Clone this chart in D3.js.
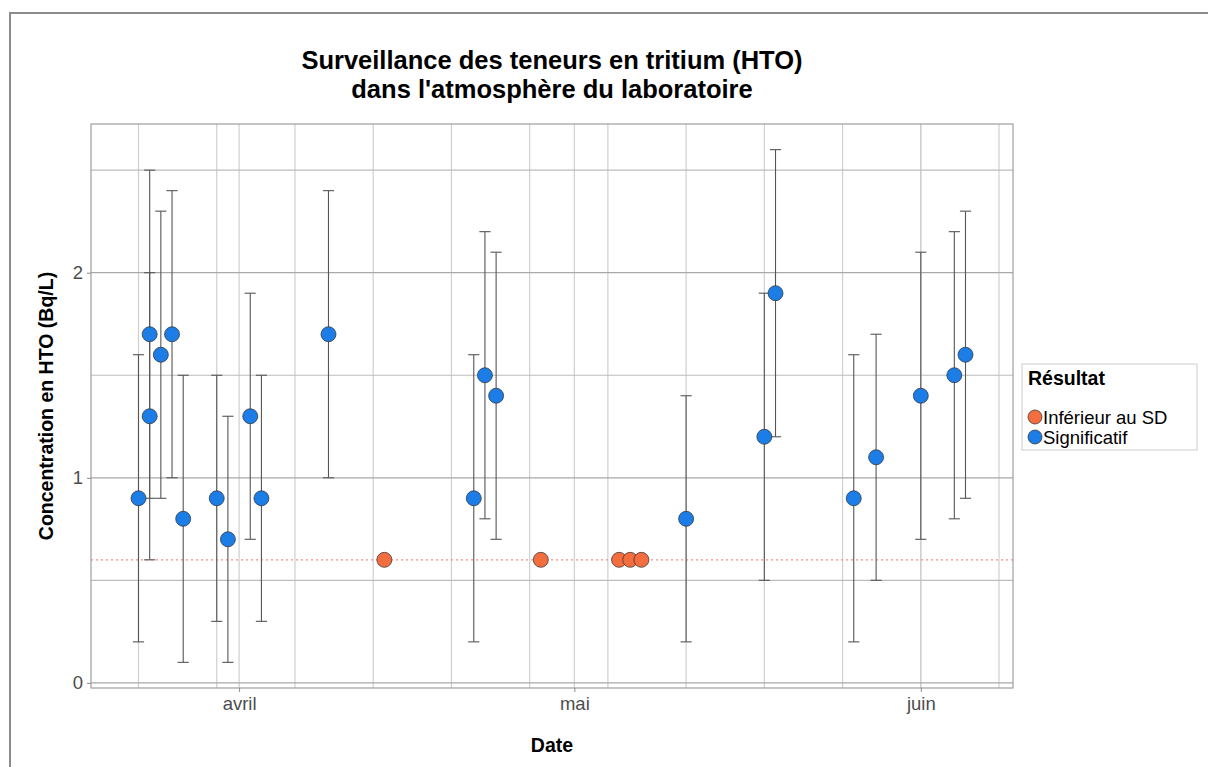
<!DOCTYPE html>
<html>
<head>
<meta charset="utf-8">
<script src="https://cdn.jsdelivr.net/npm/d3@7"></script>
<style>
  body { margin: 0; background: #fff; font-family: "Liberation Sans", Arial, sans-serif; }
</style>
</head>
<body>
<div id="chart"></div>
<script>
// data
var dates = ["2023-03-23","2023-03-24","2023-03-24","2023-03-25","2023-03-26","2023-03-27",
             "2023-03-30","2023-03-31","2023-04-02","2023-04-03","2023-04-09","2023-04-14",
             "2023-04-22","2023-04-23","2023-04-24","2023-04-28","2023-05-05","2023-05-06",
             "2023-05-07","2023-05-11","2023-05-18","2023-05-19","2023-05-26","2023-05-28",
             "2023-06-01","2023-06-04","2023-06-05"];
var values = [0.9, 1.3, 1.7, 1.6, 1.7, 0.8,
              0.9, 0.7, 1.3, 0.9, 1.7, 0.6,
              0.9, 1.5, 1.4, 0.6, 0.6, 0.6,
              0.6, 0.8, 1.2, 1.9, 0.9, 1.1,
              1.4, 1.5, 1.6];
var errLow = [0.2, 0.6, 0.9, 0.9, 1.0, 0.1,
              0.3, 0.1, 0.7, 0.3, 1.0, null,
              0.2, 0.8, 0.7, null, null, null,
              null, 0.2, 0.5, 1.2, 0.2, 0.5,
              0.7, 0.8, 0.9];
var errHigh = [1.6, 2.0, 2.5, 2.3, 2.4, 1.5,
               1.5, 1.3, 1.9, 1.5, 2.4, null,
               1.6, 2.2, 2.1, null, null, null,
               null, 1.4, 1.9, 2.6, 1.6, 1.7,
               2.1, 2.2, 2.3];
var result = ["S","S","S","S","S","S",
              "S","S","S","S","S","I",
              "S","S","S","I","I","I",
              "I","S","S","S","S","S",
              "S","S","S"];
var seuilSD = 0.6;
var yTicks = [0, 1, 2];
var yMinor = [0.5, 1.5, 2.5];
var monthTicks = ["2023-04-01", "2023-05-01", "2023-06-01"];
var monthLabels = ["avril", "mai", "juin"];
var legendKeys = ["I", "S"];
var legendLabels = ["Inférieur au SD", "Significatif"];

var parse = d3.timeParse("%Y-%m-%d");

var width = 1208, height = 767;
var margin = { top: 124, right: 195, bottom: 79, left: 91 };
var pw = width - margin.left - margin.right,
    ph = height - margin.top - margin.bottom;

var data = dates.map(function (d, i) {
    return { date: parse(d), value: values[i], lo: errLow[i], hi: errHigh[i], res: result[i] };
});

var color = d3.scaleOrdinal().domain(legendKeys).range(["#F46D3F", "#1C7DE6"]);

var svg = d3.select("#chart").append("svg")
    .attr("width", width)
    .attr("height", height);

// outer frame of the original image
svg.append("path")
    .attr("d", "M10," + height + "V13H" + width)
    .attr("fill", "none")
    .attr("stroke", "#8c8c8c")
    .attr("stroke-width", 2);

var inner = svg.append("g")
    .attr("transform", "translate(" + margin.left + "," + margin.top + ")");

// x scale: date range, widened by errorbar half width then 5%
var halfW = 0.5 * 864e5;
var ext = d3.extent(data, function (d) { return +d.date; });
var x0 = ext[0] - halfW, x1 = ext[1] + halfW, pad = (x1 - x0) * 0.05;
var x = d3.scaleTime()
    .domain([new Date(x0 - pad), new Date(x1 + pad)])
    .range([0, pw]);

// y scale: error bar range + 5%
var yMin = d3.min(data, function (d) { return d.lo == null ? d.value : d.lo; });
var yMax = d3.max(data, function (d) { return d.hi == null ? d.value : d.hi; });
var yPad = (yMax - yMin) * 0.05;
var y = d3.scaleLinear()
    .domain([yMin - yPad, yMax + yPad])
    .range([ph, 0]);

// grid: weekly lines + month lines
var weeks = d3.range(-9, 80, 7).map(function (k) { return d3.timeDay.offset(parse("2023-04-01"), k); })
    .filter(function (d) { return x(d) > 0 && x(d) < pw; });

inner.selectAll(".vgrid").data(weeks).enter().append("line")
    .attr("x1", function (d) { return x(d); }).attr("x2", function (d) { return x(d); })
    .attr("y1", 0).attr("y2", ph)
    .attr("stroke", "#cfcfcf").attr("stroke-width", 1.2);

inner.selectAll(".vmaj").data(monthTicks.map(parse)).enter().append("line")
    .attr("x1", function (d) { return x(d); }).attr("x2", function (d) { return x(d); })
    .attr("y1", 0).attr("y2", ph)
    .attr("stroke", "#cfcfcf").attr("stroke-width", 1.2);

inner.selectAll(".hmin").data(yMinor).enter().append("line")
    .attr("x1", 0).attr("x2", pw)
    .attr("y1", function (d) { return y(d); }).attr("y2", function (d) { return y(d); })
    .attr("stroke", "#bdbdbd").attr("stroke-width", 1.2);

inner.selectAll(".hmaj").data(yTicks).enter().append("line")
    .attr("x1", 0).attr("x2", pw)
    .attr("y1", function (d) { return y(d); }).attr("y2", function (d) { return y(d); })
    .attr("stroke", "#a8a8a8").attr("stroke-width", 1.2);

// panel border
inner.append("rect")
    .attr("width", pw).attr("height", ph)
    .attr("fill", "none").attr("stroke", "#9e9e9e").attr("stroke-width", 1.2);

// SD threshold line
inner.append("line")
    .attr("x1", 0).attr("x2", pw)
    .attr("y1", y(seuilSD)).attr("y2", y(seuilSD))
    .attr("stroke", "#ff8a80").attr("stroke-width", 1.2)
    .attr("stroke-dasharray", "2,3");

// axes
var xAxis = inner.append("g")
    .attr("transform", "translate(0," + ph + ")")
    .call(d3.axisBottom(x).tickValues(monthTicks.map(parse))
        .tickFormat(function (d, i) { return monthLabels[i]; })
        .tickSize(4).tickPadding(5));
var yAxis = inner.append("g")
    .call(d3.axisLeft(y).tickValues(yTicks).tickFormat(d3.format("d"))
        .tickSize(4).tickPadding(4));

[xAxis, yAxis].forEach(function (ax) {
    ax.select(".domain").remove();
    ax.selectAll("line").attr("stroke", "#8a8a8a");
    ax.selectAll("text")
        .style("font-family", "Liberation Sans, Arial, sans-serif")
        .style("font-size", "18.5px")
        .attr("fill", "#4d4d4d");
});

// error bars
var eb = data.filter(function (d) { return d.lo != null; });
var errG = inner.append("g");
errG.selectAll(".ev").data(eb).enter().append("line")
    .attr("x1", function (d) { return x(d.date); }).attr("x2", function (d) { return x(d.date); })
    .attr("y1", function (d) { return y(d.lo); }).attr("y2", function (d) { return y(d.hi); })
    .attr("stroke", "#555").attr("stroke-width", 1.1);
["lo", "hi"].forEach(function (k) {
    errG.selectAll(".cap" + k).data(eb).enter().append("line")
        .attr("x1", function (d) { return x(new Date(+d.date - halfW)); })
        .attr("x2", function (d) { return x(new Date(+d.date + halfW)); })
        .attr("y1", function (d) { return y(d[k]); }).attr("y2", function (d) { return y(d[k]); })
        .attr("stroke", "#555").attr("stroke-width", 1.1);
});

// points
inner.selectAll(".pt").data(data).enter().append("circle")
    .attr("cx", function (d) { return x(d.date); })
    .attr("cy", function (d) { return y(d.value); })
    .attr("r", 7.5)
    .attr("fill", function (d) { return color(d.res); })
    .attr("stroke", "#2b2b2b").attr("stroke-width", 0.7);

// titles
var title = svg.append("text")
    .attr("text-anchor", "middle")
    .style("font-size", "25.5px").style("font-weight", "bold")
    .attr("fill", "#000");
title.append("tspan").attr("x", margin.left + pw / 2).attr("y", 69)
    .text("Surveillance des teneurs en tritium (HTO)");
title.append("tspan").attr("x", margin.left + pw / 2).attr("y", 98)
    .text("dans l'atmosphère du laboratoire");

svg.append("text")
    .attr("text-anchor", "middle")
    .attr("x", margin.left + pw / 2).attr("y", 752)
    .style("font-size", "19.5px").style("font-weight", "bold")
    .text("Date");

svg.append("text")
    .attr("text-anchor", "middle")
    .attr("transform", "translate(53," + (margin.top + ph / 2) + ") rotate(-90)")
    .style("font-size", "19.5px").style("font-weight", "bold")
    .text("Concentration en HTO (Bq/L)");

// legend
var lg = svg.append("g").attr("transform", "translate(1022,364)");
lg.append("rect")
    .attr("width", 175).attr("height", 86)
    .attr("fill", "#fff").attr("stroke", "#cccccc").attr("stroke-width", 1);
lg.append("text")
    .attr("x", 6).attr("y", 21)
    .style("font-size", "19.5px").style("font-weight", "bold")
    .text("Résultat");
var item = lg.selectAll(".key").data(legendKeys).enter().append("g")
    .attr("transform", function (d, i) { return "translate(0," + (53 + i * 20) + ")"; });
item.append("circle")
    .attr("cx", 13).attr("cy", 0).attr("r", 7)
    .attr("fill", function (d) { return color(d); })
    .attr("stroke", "#2b2b2b").attr("stroke-width", 0.7);
item.append("text")
    .attr("x", 21).attr("y", 6.5)
    .style("font-size", "18.5px")
    .text(function (d, i) { return legendLabels[i]; });
</script>
</body>
</html>
